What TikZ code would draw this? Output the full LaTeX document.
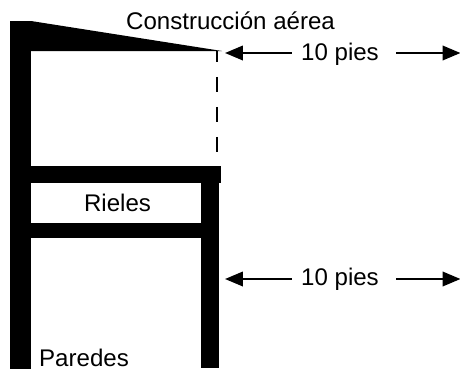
\documentclass[tikz,border=0pt]{standalone}
\usepackage{fontspec}
\setmainfont{Liberation Sans}
\usetikzlibrary{arrows.meta, positioning}

\tikzset{
  label text/.style={anchor=base, inner sep=0pt, font=\fontsize{13.7pt}{16pt}\selectfont},
  span label/.style={label text, inner xsep=.18cm},
  span arrow/.style={-{Triangle[length=.36cm,width=.29cm]}, line width=1.3pt}
}

\begin{document}
\begin{tikzpicture}[x=.02cm, y=-.02cm]
\useasboundingbox (0,0) rectangle (460,369);

% walls, rails and overhang
\fill [black] (9.5,21) rectangle (31,369);
\fill [black] (201,166) rectangle (219,368);
\fill [black] (31,166) rectangle (220.5,183);
\fill [black] (31,223) rectangle (201,238);
\fill [black] (31,21) -- (222,51) -- (31,51) -- cycle;

\draw [black, line width=.75pt, dash pattern=on .3cm off .3cm, dash phase=.08cm] (217,51) -- (217,166);

\node [label text] (roof) at (230.5,29) {Construcción aérea};
\node [label text] (rails) at (117.5,211.5) {Rieles};
\node [label text] (walls) at (84,366.5) {Paredes};
\node [span label] (span1) at (340,60) {10 pies};
\node [span label] (span2) at (340,285) {10 pies};

\coordinate (span1l) at (225,53);
\coordinate (span1r) at (460.5,53);
\coordinate (span2l) at (225,279);
\coordinate (span2r) at (460.5,279);

\draw [span arrow] (span1.west |- span1l) -- (span1l);
\draw [span arrow] ([xshift=.16cm]span1.east |- span1r) -- (span1r);
\draw [span arrow] (span2.west |- span2l) -- (span2l);
\draw [span arrow] ([xshift=.16cm]span2.east |- span2r) -- (span2r);
\end{tikzpicture}
\end{document}
